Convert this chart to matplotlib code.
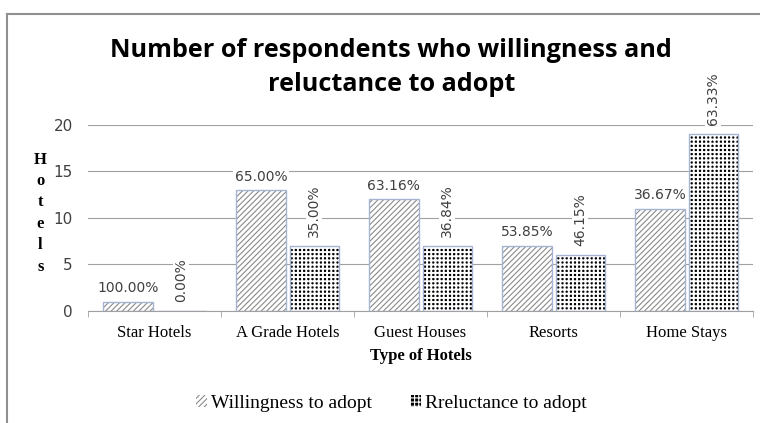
import matplotlib
matplotlib.use("Agg")
from matplotlib import pyplot as plt
from matplotlib.lines import Line2D
from matplotlib.patches import Patch
import numpy as np

# chart data
categories = ['Star Hotels', 'A Grade Hotels', 'Guest Houses', 'Resorts', 'Home Stays']
willing = [1, 13, 12, 7, 11]
reluct = [0, 7, 7, 6, 19]
willing_pct = ['100.00%', '65.00%', '63.16%', '53.85%', '36.67%']
reluct_pct = ['0.00%', '35.00%', '36.84%', '46.15%', '63.33%']
yticks = [0, 5, 10, 15, 20]

fig = plt.figure(figsize=(7.6, 4.23), dpi=100)
ax = fig.add_axes([0.1158, 0.2648, 0.875, 0.4397])

x = np.arange(len(categories))
w = 0.37
off = 0.2

# hatched fills
plt.rcParams['hatch.linewidth'] = 0.8
ax.bar(x - off, willing, w, color='white', edgecolor='#8a8a8a', hatch='//////', linewidth=0, zorder=2)
plt.rcParams['hatch.linewidth'] = 1.4
ax.bar(x + off, reluct, w, color='black', edgecolor='white', hatch='++++', linewidth=0, zorder=2)
# bar outlines
ax.bar(x - off, willing, w, fill=False, edgecolor='#a7b3d3', linewidth=1, zorder=3)
ax.bar(x + off, reluct, w, fill=False, edgecolor='#a7b3d3', linewidth=1, zorder=3)

# percentage labels
for i in range(len(categories)):
    ax.text(x[i] - off, willing[i] + 0.7, willing_pct[i], ha='center', va='bottom',
            fontsize=10, color='#404040', family='DejaVu Sans',
            bbox=dict(facecolor='white', edgecolor='none', pad=1))
    ax.text(x[i] + off, reluct[i] + 1.0, reluct_pct[i], ha='center', va='bottom',
            rotation=90, fontsize=10, color='#404040', family='DejaVu Sans',
            bbox=dict(facecolor='white', edgecolor='none', pad=1))

ax.set_xlim(-0.5, len(categories) - 0.5)
ax.set_ylim(0, 20)
ax.set_yticks(yticks)
ax.set_yticklabels([str(t) for t in yticks], fontsize=11, color='#404040')
ax.tick_params(axis='y', length=0, pad=11)
ax.set_xticks(x)
ax.set_xticklabels(categories, fontsize=12, family='Liberation Serif')
ax.tick_params(axis='x', length=0, pad=10)
ax.set_xticks(np.arange(len(categories) + 1) - 0.5, minor=True)
ax.tick_params(axis='x', which='minor', length=4, color='#a0a0a0')

ax.grid(axis='y', color='#a0a0a0', linewidth=0.8, zorder=0)
ax.set_axisbelow(True)
for s in ['top', 'right', 'left']:
    ax.spines[s].set_visible(False)
ax.spines['bottom'].set_color('#a0a0a0')

ax.set_xlabel('Type of Hotels', fontsize=12, family='Liberation Serif', fontweight='bold', labelpad=5)
fig.text(0.053, 0.496, '\n'.join('Hotels'), ha='center', va='center', fontsize=12,
         family='Liberation Serif', fontweight='bold', linespacing=1.45)

fig.text(0.515, 0.84, 'Number of respondents who willingness and\nreluctance to adopt',
         ha='center', va='center', fontsize=18.2, fontweight='bold', family='Open Sans',
         linespacing=1.45)

# legend
plt.rcParams['hatch.linewidth'] = 0.8
handles = [Patch(facecolor='white', edgecolor='#8a8a8a', hatch='//////', linewidth=0),
           Patch(facecolor='black', edgecolor='white', hatch='++++', linewidth=0)]
fig.legend(handles, ['Willingness to adopt', 'Rreluctance to adopt'], loc='center',
           bbox_to_anchor=(0.515, 0.047), ncol=2, frameon=False,
           prop={'family': 'Liberation Serif', 'size': 14},
           handlelength=0.55, handleheight=0.55, handletextpad=0.2, columnspacing=2.0)

# frame lines at top and left
fig.add_artist(Line2D([0.0095, 1.0], [0.966, 0.966], color='#909090', linewidth=1.5))
fig.add_artist(Line2D([0.0095, 0.0095], [0.0, 0.966], color='#909090', linewidth=1.5))

fig.savefig('out.png', dpi=100)
